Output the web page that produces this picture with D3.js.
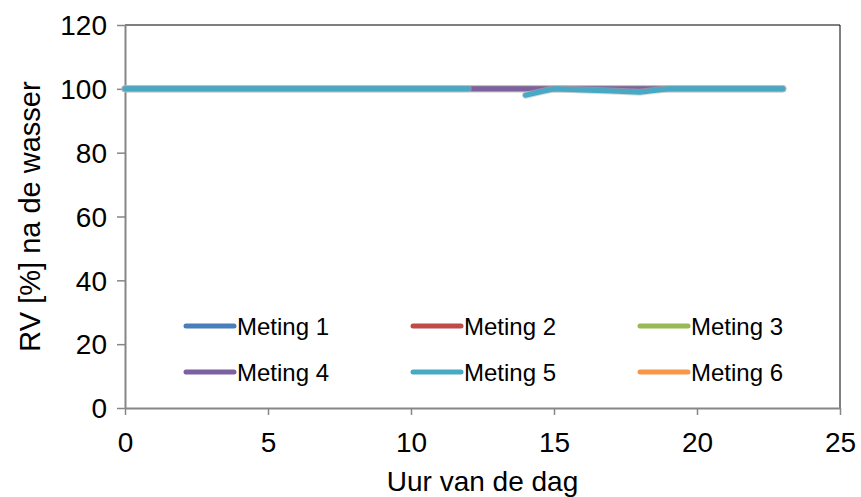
<!DOCTYPE html>
<html>
<head>
<meta charset="utf-8">
<script src="https://cdn.jsdelivr.net/npm/d3@7"></script>
<style>
  body { margin: 0; background: #fff; }
  text { font-family: "Liberation Sans", Arial, sans-serif; fill: #000; }
</style>
</head>
<body>
<div id="chart"></div>
<script>
// chart data
const hours = d3.range(0, 24);
const seriesNames = ["Meting 1", "Meting 2", "Meting 3", "Meting 4", "Meting 5", "Meting 6"];
const seriesColors = ["#4a7ebb", "#be4b48", "#98b954", "#7d60a0", "#46aac5", "#f79646"];
const meting1 = hours.map(() => 100);
const meting2 = hours.map(() => 100);
const meting3 = hours.map(() => 100);
const meting4 = hours.map(() => 100);
const meting5 = [100, 100, 100, 100, 100, 100, 100, 100, 100, 100, 100, 100, 100, null,
                 98, 100, 99.6, 99.3, 98.9, 100, 100, 100, 100, 100];
const meting6 = hours.map(() => null);
const xTicks = [0, 5, 10, 15, 20, 25];
const yTicks = [0, 20, 40, 60, 80, 100, 120];

const width = 861, height = 497,
    margin = ({ top: 25, right: 21, bottom: 89, left: 125 });

const svg = d3.select("#chart")
    .append("svg")
    .attr("width", width)
    .attr("height", height);

let x = d3.scaleLinear()
    .domain([0, 25])
    .range([margin.left, width - margin.right]);

let y = d3.scaleLinear()
    .domain([0, 120])
    .range([height - margin.bottom, margin.top]);

// plot border (top and right are black)
svg.append("path")
    .attr("d", `M${x(0)},${y(120)}H${x(25)}V${y(0)}`)
    .attr("fill", "none")
    .attr("stroke", "#000")
    .attr("stroke-width", 1);

// axes
const xAxis = svg.append("g")
    .attr("transform", `translate(0,${y(0)})`)
    .call(d3.axisBottom(x).tickValues(xTicks).tickSize(7).tickPadding(17).tickSizeOuter(0));

const yAxis = svg.append("g")
    .attr("transform", `translate(${x(0)},0)`)
    .call(d3.axisLeft(y).tickValues(yTicks).tickSize(8).tickPadding(10).tickSizeOuter(0));

[xAxis, yAxis].forEach(g => {
    g.select(".domain").attr("stroke", "#868686").attr("stroke-width", 2);
    g.selectAll(".tick line").attr("stroke", "#868686").attr("stroke-width", 1.5);
    g.selectAll(".tick text")
        .style("font-family", '"Liberation Sans", Arial, sans-serif')
        .style("font-size", "28px")
        .attr("fill", "#000");
});
yAxis.selectAll(".tick text").attr("dy", "0.35em");

// axis titles
svg.append("text")
    .attr("text-anchor", "middle")
    .attr("x", x(12.5))
    .attr("y", 491)
    .style("font-size", "28px")
    .text("Uur van de dag");

svg.append("text")
    .attr("text-anchor", "middle")
    .attr("transform", `translate(40,${y(60)}) rotate(-90)`)
    .style("font-size", "29px")
    .text("RV [%] na de wasser");

// lines
const allSeries = [meting1, meting2, meting3, meting4, meting5, meting6];

let line = d3.line()
    .defined(d => d.v !== null)
    .x(d => x(d.h))
    .y(d => y(d.v));

allSeries.forEach((vals, i) => {
    const pts = hours.map((h, j) => ({ h: h, v: vals[j] }));
    svg.append("path")
        .datum(pts)
        .attr("d", line)
        .attr("fill", "none")
        .attr("stroke", "#b8b8b8")
        .attr("stroke-width", 7)
        .attr("stroke-linecap", "round")
        .attr("stroke-opacity", 0.5);
    svg.append("path")
        .datum(pts)
        .attr("d", line)
        .attr("fill", "none")
        .attr("stroke", seriesColors[i])
        .attr("stroke-width", 5)
        .attr("stroke-linejoin", "round")
        .attr("stroke-linecap", "round");
});

// legend
const legendCols = [186, 413, 640], legendRows = [326, 372];
seriesNames.forEach((name, i) => {
    const lx = legendCols[i % 3], ly = legendRows[Math.floor(i / 3)];
    svg.append("line")
        .attr("x1", lx).attr("x2", lx + 48)
        .attr("y1", ly).attr("y2", ly)
        .attr("stroke", seriesColors[i])
        .attr("stroke-width", 5)
        .attr("stroke-linecap", "round");
    svg.append("text")
        .attr("x", lx + 51)
        .attr("y", ly + 1)
        .attr("dy", "0.35em")
        .style("font-size", "24px")
        .text(name);
});
</script>
</body>
</html>
